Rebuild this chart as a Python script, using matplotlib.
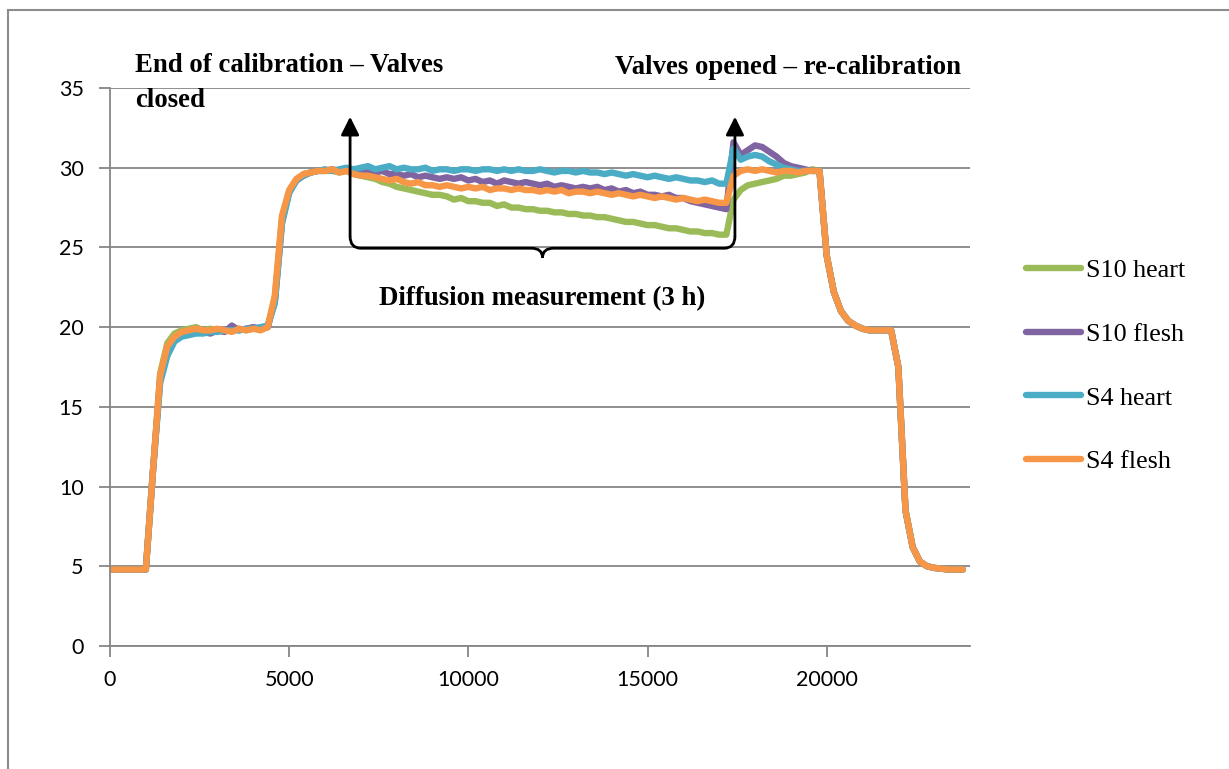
import matplotlib
matplotlib.use("Agg")
import matplotlib.pyplot as plt
from matplotlib.path import Path
from matplotlib.patches import PathPatch
from matplotlib.lines import Line2D

# sampling grid, seconds (every 200 s)
seconds = list(range(0, 23801, 200))

# start of the run: zero-gas baseline, identical for all sensors (0..1200 s)
head = [4.8, 4.8, 4.8, 4.8, 4.8, 4.8, 11.0]

# end of the run: second calibration step and return to baseline (20000..23800 s)
tail = [24.5, 22.2, 21.0, 20.4, 20.1, 19.9, 19.8, 19.8, 19.8, 19.8,
        17.5, 8.5, 6.2, 5.3, 5.0, 4.9, 4.85, 4.8, 4.8, 4.8]

# sensor readings 1400..19800 s
s10_heart = [17.1, 19.0, 19.6, 19.8, 19.9, 20.0, 19.8, 19.9, 19.8, 19.8,
             19.8, 19.9, 19.8, 19.9, 19.9, 20.0, 21.8, 26.8, 28.5, 29.2,
             29.6, 29.7, 29.8, 29.8, 29.8, 29.7, 29.8, 29.6, 29.5, 29.4,
             29.3, 29.1, 29.0, 28.8, 28.7, 28.6, 28.5, 28.4, 28.3, 28.3,
             28.2, 28.0, 28.1, 27.9, 27.9, 27.8, 27.8, 27.6, 27.7, 27.5,
             27.5, 27.4, 27.4, 27.3, 27.3, 27.2, 27.2, 27.1, 27.1, 27.0,
             27.0, 26.9, 26.9, 26.8, 26.7, 26.6, 26.6, 26.5, 26.4, 26.4,
             26.3, 26.2, 26.2, 26.1, 26.0, 26.0, 25.9, 25.9, 25.8, 25.8,
             28.0, 28.6, 28.9, 29.0, 29.1, 29.2, 29.3, 29.5, 29.5, 29.6,
             29.7, 29.9, 29.8]

s10_flesh = [16.7, 18.6, 19.3, 19.6, 19.7, 19.8, 19.7, 19.6, 19.8, 19.7,
             20.1, 19.8, 19.9, 20.0, 19.9, 20.0, 21.6, 26.6, 28.5, 29.2,
             29.5, 29.7, 29.8, 29.8, 29.9, 29.8, 29.9, 29.8, 29.9, 29.8,
             29.7, 29.8, 29.6, 29.6, 29.5, 29.6, 29.4, 29.5, 29.4, 29.3,
             29.4, 29.3, 29.4, 29.2, 29.3, 29.1, 29.2, 29.0, 29.2, 29.1,
             29.0, 29.1, 29.0, 28.9, 29.0, 28.8, 28.9, 28.8, 28.7, 28.8,
             28.7, 28.8, 28.6, 28.7, 28.5, 28.6, 28.4, 28.5, 28.3, 28.3,
             28.2, 28.3, 28.1, 28.1, 27.9, 27.8, 27.7, 27.6, 27.5, 27.4,
             31.6, 30.8, 31.1, 31.4, 31.3, 31.0, 30.7, 30.3, 30.1, 30.0,
             29.9, 29.8, 29.8]

s4_heart = [16.5, 18.2, 19.1, 19.4, 19.5, 19.6, 19.6, 19.7, 19.7, 19.8,
            19.8, 19.8, 19.9, 19.9, 20.0, 20.1, 21.5, 26.5, 28.4, 29.2,
            29.5, 29.7, 29.8, 29.9, 29.8, 29.9, 30.0, 29.9, 30.0, 30.1,
            29.9, 30.0, 30.1, 29.9, 30.0, 29.9, 29.9, 30.0, 29.8, 29.9,
            29.9, 29.8, 29.9, 29.9, 29.8, 29.9, 29.9, 29.8, 29.9, 29.8,
            29.9, 29.8, 29.8, 29.9, 29.8, 29.7, 29.8, 29.8, 29.7, 29.8,
            29.7, 29.7, 29.6, 29.7, 29.6, 29.5, 29.6, 29.5, 29.4, 29.5,
            29.4, 29.3, 29.4, 29.3, 29.2, 29.2, 29.1, 29.2, 29.0, 29.0,
            31.2, 30.5, 30.7, 30.8, 30.7, 30.4, 30.2, 30.0, 29.9, 29.8,
            29.8, 29.8, 29.8]

s4_flesh = [17.0, 18.8, 19.4, 19.7, 19.8, 19.9, 19.8, 19.8, 19.9, 19.8,
            19.7, 19.9, 19.8, 19.9, 19.8, 20.0, 22.0, 27.0, 28.6, 29.3,
            29.6, 29.7, 29.8, 29.8, 29.9, 29.7, 29.8, 29.6, 29.5, 29.5,
            29.4, 29.3, 29.2, 29.3, 29.1, 29.0, 29.1, 28.9, 28.9, 28.8,
            28.9, 28.8, 28.7, 28.8, 28.7, 28.8, 28.6, 28.7, 28.7, 28.6,
            28.7, 28.6, 28.6, 28.5, 28.6, 28.5, 28.6, 28.4, 28.5, 28.5,
            28.4, 28.5, 28.4, 28.3, 28.4, 28.3, 28.2, 28.3, 28.2, 28.1,
            28.2, 28.1, 28.0, 28.1, 28.0, 27.9, 28.0, 27.9, 27.8, 27.8,
            29.5, 29.8, 29.9, 29.8, 29.9, 29.8, 29.7, 29.8, 29.8, 29.7,
            29.8, 29.8, 29.8]

labels = ["S10 heart", "S10 flesh", "S4 heart", "S4 flesh"]
colors = ["#9BBB59", "#8064A2", "#4BACC6", "#F79646"]

# valve events (s) and annotation texts
t_closed = 6700
t_opened = 17440
txt_closed = "End of calibration \u2013 Valves\nclosed"
txt_opened = "Valves opened \u2013 re-calibration"
txt_diff = "Diffusion measurement (3 h)"

W, H = 1229, 769
fig = plt.figure(figsize=(W / 100, H / 100), dpi=100)
ax = fig.add_axes([110 / W, 123 / H, 860 / W, 558 / H])

grey = "#868686"
for name, col, mid in zip(labels, colors, [s10_heart, s10_flesh, s4_heart, s4_flesh]):
    ax.plot(seconds, head + mid + tail, color=col, lw=4.6, label=name,
            solid_capstyle="round", solid_joinstyle="round")

ax.set_xlim(0, 24000)
ax.set_ylim(0, 35)
ax.set_xticks(range(0, 20001, 5000))
ax.set_yticks(range(0, 36, 5))
ax.grid(axis="y", color=grey, lw=1.3)
ax.set_axisbelow(True)
for s in ["top", "right"]:
    ax.spines[s].set_visible(False)
for s in ["left", "bottom"]:
    ax.spines[s].set_color(grey)
    ax.spines[s].set_linewidth(1.3)
ax.tick_params(axis="both", color=grey, width=1.3, length=8, labelsize=15.5)
ax.tick_params(axis="y", pad=11)
ax.tick_params(axis="x", pad=9)
for lab in ax.get_xticklabels() + ax.get_yticklabels():
    lab.set_fontfamily("Lato")

# brace under the diffusion period + arrows marking the valve events
yb, yh, ytip = 25.7, 24.95, 24.35
mid_t = (t_closed + t_opened) / 2
verts = [(t_closed, yb), (t_closed, yh), (t_closed + 300, yh),
         (mid_t - 310, yh),
         (mid_t, yh), (mid_t, ytip),
         (mid_t, yh), (mid_t + 310, yh),
         (t_opened - 300, yh),
         (t_opened, yh), (t_opened, yb)]
codes = [Path.MOVETO, Path.CURVE3, Path.CURVE3, Path.LINETO,
         Path.CURVE3, Path.CURVE3, Path.CURVE3, Path.CURVE3,
         Path.LINETO, Path.CURVE3, Path.CURVE3]
ax.add_patch(PathPatch(Path(verts, codes), fill=False, lw=2, color="black",
                       clip_on=False))
for t in (t_closed, t_opened):
    ax.annotate("", xy=(t, 33.2), xytext=(t, yb),
                arrowprops=dict(arrowstyle="-|>,head_length=1.1,head_width=0.55",
                                mutation_scale=10, lw=2, color="black",
                                shrinkA=0, shrinkB=0))

serif = dict(family="Liberation Serif", weight="bold", fontsize=19.3)
fig.text(135 / W, 1 - 107 / H, txt_closed, va="baseline", ha="left",
         linespacing=1.52, **serif)
fig.text(615 / W, 1 - 74 / H, txt_opened, va="baseline", ha="left", **serif)
ax.text(mid_t, 21.8, txt_diff, ha="center", va="center", **serif)

fig.legend(loc="center left", bbox_to_anchor=(1026 / W, 1 - 366 / H),
           frameon=False, borderpad=0, borderaxespad=0, handlelength=2.1,
           handletextpad=0.2, labelspacing=1.55,
           prop=dict(family="Liberation Serif", size=18.8))

# chart frame
fig.add_artist(Line2D([8 / W, 8 / W], [0, 1 - 10 / H], color="#8c8c8c", lw=1.5))
fig.add_artist(Line2D([8 / W, 1], [1 - 10 / H, 1 - 10 / H], color="#8c8c8c", lw=1.5))

fig.savefig("out.png", dpi=100)
